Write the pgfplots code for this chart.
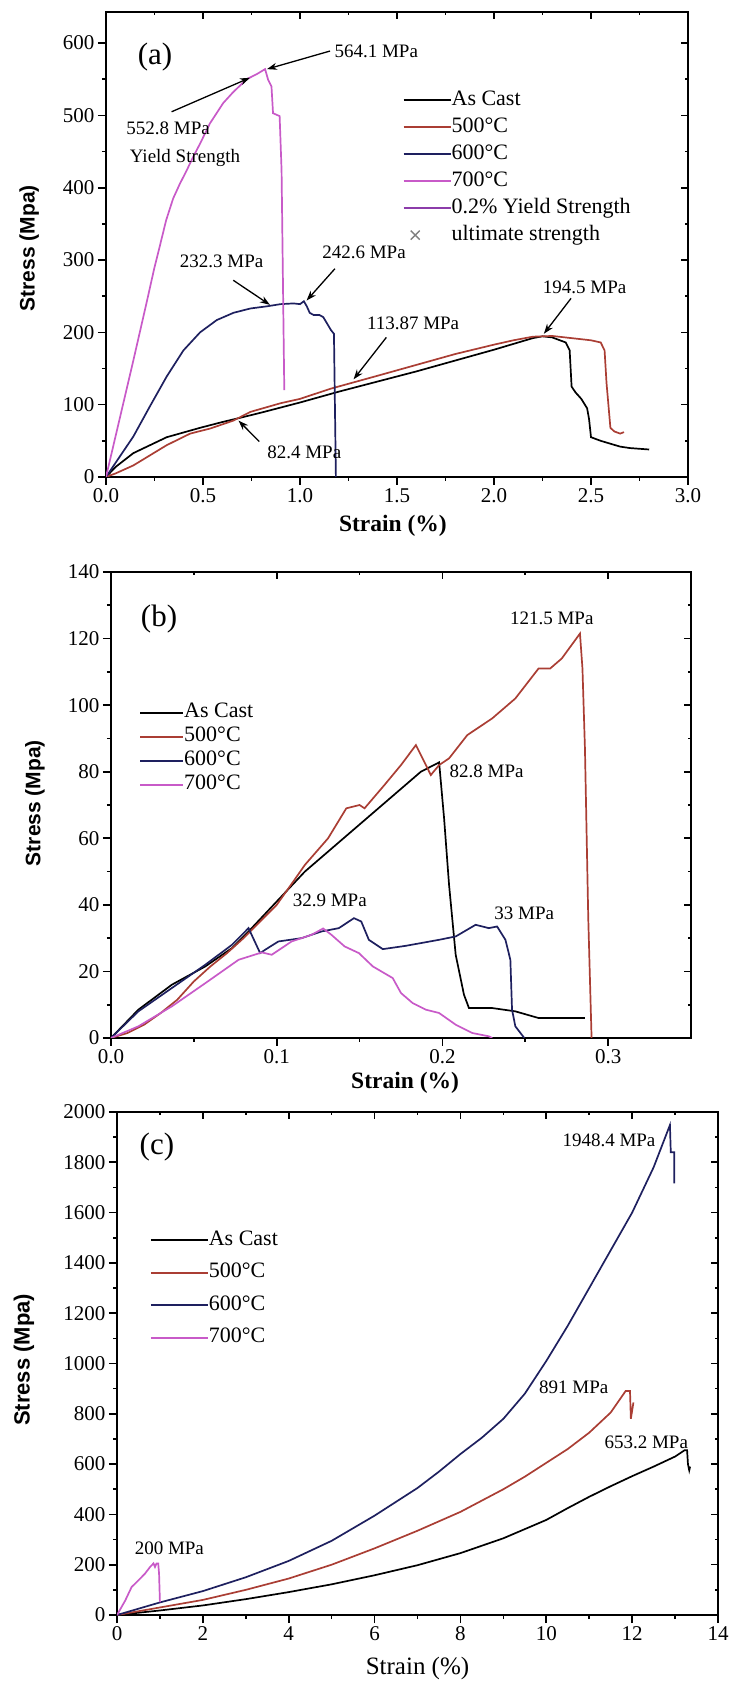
\documentclass[border=0pt]{standalone}
\usepackage{fontspec}
\setmainfont{Liberation Serif}
\newfontfamily\arialfont{Liberation Sans}
\usepackage{pgfplots}
\pgfplotsset{compat=1.18}
\usetikzlibrary{arrows.meta}
\definecolor{cBrick}{RGB}{170,62,52}
\definecolor{cNavy}{RGB}{30,32,95}
\definecolor{cMag}{RGB}{200,90,200}
\definecolor{cPurp}{RGB}{140,60,170}

\pgfplotstableread{
x y
0 0
0.05 14
0.141 33
0.313 55
0.485 68
0.6 76
0.7 82.4
0.8 89
1.0 103
1.2 118
1.4 132
1.6 146
1.8 161
2.0 176
2.1 184
2.2 192
2.25 194.5
2.3 193
2.33 190
2.37 186
2.39 175
2.40 125
2.42 117
2.45 108
2.48 95
2.49 80
2.5 55
2.55 50
2.6 46
2.65 42
2.7 40
2.8 38
}\aCast
\pgfplotstableread{
x y
0 0
0.05 5
0.141 16
0.313 44
0.434 60
0.537 67
0.657 78
0.744 90
0.9 102
1.0 108
1.157 122
1.4 140
1.6 155
1.8 170
2.0 183
2.1 189
2.2 194
2.3 195
2.4 192
2.5 189
2.55 186
2.57 175
2.58 130
2.6 68
2.62 63
2.65 60
2.67 62
}\aFive
\pgfplotstableread{
x y
0 0
0.141 56
0.227 98
0.313 139
0.399 175
0.485 200
0.571 217
0.657 227
0.744 233
0.83 236
0.9 239
0.967 240
1.0 239
1.02 243
1.035 236
1.05 227
1.07 224
1.1 224
1.12 221
1.14 212
1.16 203
1.175 198
1.185 0
}\aSix
\pgfplotstableread{
x y
0 0
0.07 80
0.14 160
0.21 242
0.25 290
0.278 320
0.31 355
0.346 385
0.38 405
0.416 424
0.45 443
0.485 461
0.536 489
0.604 517
0.655 532
0.725 550
0.777 557
0.82 564
0.836 549
0.853 540
0.861 503
0.895 499
0.905 424
0.919 120
}\aSeven

\pgfplotstableread{
x y
0 0
0.0165 8.5
0.0367 16
0.0569 21.5
0.073 27
0.083 32
0.1 41
0.117 50
0.131 56
0.145 62
0.159 68
0.173 74
0.187 80
0.198 82.8
0.201 66
0.204 46
0.208 25
0.213 13
0.216 9
0.23 9
0.244 8
0.258 6
0.286 6
}\bCast
\pgfplotstableread{
x y
0 0
0.01 1.5
0.02 4
0.03 7.5
0.04 11.5
0.05 17
0.06 21.5
0.07 25.5
0.08 30
0.09 35
0.1 40
0.11 47
0.117 52
0.131 60
0.142 69
0.15 70
0.153 69
0.165 76
0.175 82
0.184 88
0.193 79
0.198 82
0.204 84
0.215 91
0.23 96
0.244 102
0.258 111
0.265 111
0.272 114
0.283 121.5
0.2845 111
0.286 87
0.288 36
0.29 0
}\bFive
\pgfplotstableread{
x y
0 0
0.0165 8
0.0367 15
0.0569 22
0.073 28
0.083 33
0.09 25.5
0.093 26.5
0.101 29
0.115 30
0.127 32
0.1375 33
0.1466 36
0.151 35
0.1556 29.5
0.164 26.7
0.178 27.7
0.198 29.5
0.208 30.5
0.22 34
0.228 33
0.233 33.5
0.238 29.5
0.241 23.5
0.242 8.5
0.244 3.5
0.2494 0
}\bSix
\pgfplotstableread{
x y
0 0
0.0165 3.5
0.0367 9.5
0.057 16.5
0.077 23.5
0.091 25.7
0.097 25
0.109 29
0.121 31
0.128 32.9
0.133 31
0.141 27.5
0.1496 25.5
0.158 21.5
0.17 18
0.175 13.5
0.182 10.5
0.19 8.5
0.198 7.5
0.208 4
0.218 1.5
0.228 0.5
0.23 0
}\bSeven

\pgfplotstableread{
x y
0 0
1 18
2 38
3 63
4 91
5 122
6 158
7 198
8 246
9 305
10 378
10.5 425
11 470
11.5 512
12 552
12.5 590
13.0 630
13.22 655
13.28 655
13.3 600
13.33 575
13.35 590
}\cCast
\pgfplotstableread{
x y
0 0
1 30
2 60
3 100
4 145
5 200
6 265
7 335
8 410
9 500
9.5 550
10 605
10.5 660
11 725
11.5 805
11.85 891
11.95 891
11.97 780
12.03 845
}\cFive
\pgfplotstableread{
x y
0 0
0.5 25
1 50
2 95
3 150
4 215
5 295
6 395
7 505
7.5 570
8 640
8.5 705
9 780
9.5 880
10 1010
10.5 1150
11 1300
11.5 1450
12 1600
12.5 1780
12.88 1948
12.9 1840
12.98 1840
12.98 1716
}\cSix
\pgfplotstableread{
x y
0 0
0.19 57
0.34 111
0.5 138
0.65 164
0.77 191
0.85 205
0.885 191
0.92 205
0.96 205
0.98 164
1.0 51
}\cSeven

\tikzset{
  ann/.style={font=\fontsize{19}{19}\selectfont},
  arr/.style={-{Stealth[length=10pt,width=7pt]}, line width=1.3pt, black},
}
\pgfplotsset{
  common/.style={
    scale only axis,
    axis line style={line width=2pt},
    tick style={line width=1.6pt, black},
    major tick length=8pt, minor tick length=4pt,
  },
  panel/.style={common,
    tick align=outside, xtick pos=left, ytick pos=left,
    tick label style={font=\fontsize{21}{21}\selectfont},
    /pgf/number format/assume math mode=true,
    /pgf/number format/1000 sep={},
    every axis plot/.append style={line width=1.7pt},
    legend cell align=left,
    legend style={draw=none, fill=none, inner sep=0pt, outer sep=0pt,
      font=\fontsize{22}{22}\selectfont,
      /tikz/every even column/.append style={column sep=5pt},
      nodes={inner sep=0pt, text height=15pt, text depth=5pt}},
  },
  frame/.style={common,
    tick align=inside, xtick pos=right, ytick pos=right,
    major tick length=7pt, minor tick length=3.5pt,
    xticklabels={}, yticklabels={},
  },
}

\begin{document}
\begin{tikzpicture}
\path[use as bounding box] (0,0) rectangle (734pt,1683pt);

% ---------------- (a) ----------------
\begin{axis}[frame,
  at={(106pt,1206pt)}, anchor=south west,
  width=582pt, height=465pt,
  xmin=0, xmax=3, ymin=0, ymax=643,
  xtick={0,0.5,...,3}, ytick={0,100,...,600},
  minor x tick num=1, minor y tick num=1]
\end{axis}
\begin{axis}[panel,
  at={(106pt,1206pt)}, anchor=south west,
  width=582pt, height=465pt,
  xmin=0, xmax=3, ymin=0, ymax=643,
  xtick={0,0.5,...,3}, ytick={0,100,...,600},
  minor x tick num=1, minor y tick num=1,
  xticklabel style={/pgf/number format/fixed, /pgf/number format/fixed zerofill, /pgf/number format/precision=1},
  xlabel={\bfseries Strain (\%)},
  xlabel style={at={(axis description cs:0.493,-0.105)}, anchor=center, font=\fontsize{23.5}{23.5}\selectfont},
  ylabel={\arialfont\bfseries Stress (Mpa)},
  ylabel style={at={(axis description cs:-0.132,0.492)}, anchor=center, font=\fontsize{21}{21}\selectfont},
  legend style={at={(axis description cs:0.51,0.832)}, anchor=north west, row sep=7pt},
  legend image code/.code={\draw[#1, line width=1.8pt] (0pt,0pt) -- (47pt,0pt);},
]
\addplot[black] table {\aCast}; \addlegendentry{As Cast}
\addplot[cBrick] table {\aFive}; \addlegendentry{500°C}
\addplot[cNavy] table {\aSix}; \addlegendentry{600°C}
\addplot[cMag] table {\aSeven}; \addlegendentry{700°C}
\addlegendimage{cPurp} \addlegendentry{0.2\% Yield Strength}
\addlegendimage{legend image code/.code={\draw[gray, line width=1.4pt] (7pt,-4.5pt)--(16pt,4.5pt) (7pt,4.5pt)--(16pt,-4.5pt);}}
\addlegendentry{ultimate strength}

\node[font=\fontsize{31}{31}\selectfont] at (axis cs:0.253,580) {(a)};
\node[ann, anchor=west] at (axis cs:1.16,589) {564.1 MPa};
\draw[arr] (axis cs:1.155,589) -- (axis cs:0.83,564);
\node[ann] at (axis cs:0.32,482) {552.8 MPa};
\node[ann] at (axis cs:0.407,441) {Yield Strength};
\draw[arr] (axis cs:0.338,505) -- (axis cs:0.742,552);
\node[ann] at (axis cs:0.596,298) {232.3 MPa};
\draw[arr] (axis cs:0.656,272) -- (axis cs:0.845,238);
\node[ann] at (axis cs:1.33,310) {242.6 MPa};
\draw[arr] (axis cs:1.18,288) -- (axis cs:1.034,244);
\node[ann] at (axis cs:2.467,262) {194.5 MPa};
\draw[arr] (axis cs:2.397,247) -- (axis cs:2.257,198);
\node[ann] at (axis cs:1.583,213) {113.87 MPa};
\draw[arr] (axis cs:1.445,193) -- (axis cs:1.276,135);
\node[ann] at (axis cs:1.022,33.5) {82.4 MPa};
\draw[arr] (axis cs:0.79,49) -- (axis cs:0.683,78);
\end{axis}

% ---------------- (b) ----------------
\begin{axis}[frame,
  at={(111pt,645pt)}, anchor=south west,
  width=580pt, height=466pt,
  xmin=0, xmax=0.35, ymin=0, ymax=140,
  xtick={0,0.1,0.2,0.3}, ytick={0,20,...,140},
  minor x tick num=1, minor y tick num=1]
\end{axis}
\begin{axis}[panel,
  at={(111pt,645pt)}, anchor=south west,
  width=580pt, height=466pt,
  xmin=0, xmax=0.35, ymin=0, ymax=140,
  xtick={0,0.1,0.2,0.3}, ytick={0,20,...,140},
  minor x tick num=1, minor y tick num=1,
  xticklabel style={/pgf/number format/fixed, /pgf/number format/fixed zerofill, /pgf/number format/precision=1},
  xlabel={\bfseries Strain (\%)},
  xlabel style={at={(axis description cs:0.507,-0.097)}, anchor=center, font=\fontsize{23.5}{23.5}\selectfont},
  ylabel={\arialfont\bfseries Stress (Mpa)},
  ylabel style={at={(axis description cs:-0.131,0.504)}, anchor=center, font=\fontsize{21}{21}\selectfont},
  legend style={at={(axis description cs:0.049,0.719)}, anchor=north west, row sep=4pt},
  legend image code/.code={\draw[#1, line width=1.8pt] (0pt,0pt) -- (43pt,0pt);},
]
\addplot[black] table {\bCast}; \addlegendentry{As Cast}
\addplot[cBrick] table {\bFive}; \addlegendentry{500°C}
\addplot[cNavy] table {\bSix}; \addlegendentry{600°C}
\addplot[cMag] table {\bSeven}; \addlegendentry{700°C}
\node[font=\fontsize{31}{31}\selectfont] at (axis cs:0.029,126) {(b)};
\node[ann] at (axis cs:0.266,126) {121.5 MPa};
\node[ann] at (axis cs:0.2267,80.2) {82.8 MPa};
\node[ann] at (axis cs:0.132,41.3) {32.9 MPa};
\node[ann] at (axis cs:0.2494,37.5) {33 MPa};
\end{axis}

% ---------------- (c) ----------------
\begin{axis}[frame,
  at={(117pt,68pt)}, anchor=south west,
  width=601pt, height=503pt,
  xmin=0, xmax=14, ymin=0, ymax=2000,
  xtick={0,2,...,14}, ytick={0,200,...,2000},
  minor x tick num=1, minor y tick num=1]
\end{axis}
\begin{axis}[panel,
  at={(117pt,68pt)}, anchor=south west,
  width=601pt, height=503pt,
  xmin=0, xmax=14, ymin=0, ymax=2000,
  xtick={0,2,...,14}, ytick={0,200,...,2000},
  minor x tick num=1, minor y tick num=1,
  xlabel={Strain (\%)},
  xlabel style={at={(axis description cs:0.5,-0.107)}, anchor=center, font=\fontsize{25}{25}\selectfont},
  ylabel={\arialfont\bfseries Stress (Mpa)},
  ylabel style={at={(axis description cs:-0.155,0.507)}, anchor=center, font=\fontsize{22}{22}\selectfont},
  legend style={at={(axis description cs:0.055,0.765)}, anchor=north west, row sep=12.5pt},
  legend image code/.code={\draw[#1, line width=1.8pt] (0pt,0pt) -- (57pt,0pt);},
]
\addplot[black] table {\cCast}; \addlegendentry{As Cast}
\addplot[cBrick] table {\cFive}; \addlegendentry{500°C}
\addplot[cNavy] table {\cSix}; \addlegendentry{600°C}
\addplot[cMag] table {\cSeven}; \addlegendentry{700°C}
\node[font=\fontsize{31}{31}\selectfont] at (axis cs:0.93,1861) {(c)};
\node[ann] at (axis cs:11.46,1887) {1948.4 MPa};
\node[ann] at (axis cs:10.64,904) {891 MPa};
\node[ann] at (axis cs:12.33,686) {653.2 MPa};
\node[ann] at (axis cs:1.22,267) {200 MPa};
\end{axis}
\end{tikzpicture}
\end{document}
